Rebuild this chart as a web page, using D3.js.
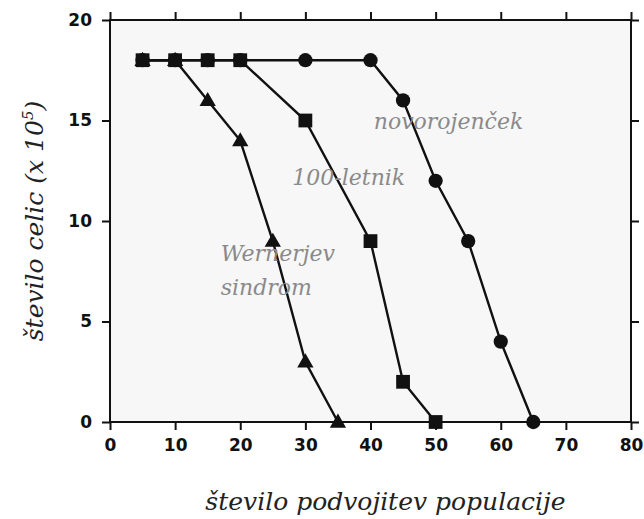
<!DOCTYPE html>
<html>
<head>
<meta charset="utf-8">
<script src="https://cdn.jsdelivr.net/npm/d3@7"></script>
<style>
  body { margin: 0; background: #fff; }
  .tick text { font-family: "DejaVu Sans", sans-serif; font-weight: bold; font-size: 17px; fill: #111; }
  .lbl { font-family: "DejaVu Serif", serif; font-style: italic; }
</style>
</head>
<body>
<div id="chart"></div>
<script>
// x = število podvojitev populacije, y = število celic (x 10^5)
const wernerX = [5, 10, 15, 20, 25, 30, 35];
const wernerY = [18, 18, 16, 14, 9, 3, 0];
const stoletnikX = [5, 10, 15, 20, 30, 40, 45, 50];
const stoletnikY = [18, 18, 18, 18, 15, 9, 2, 0];
const novoX = [5, 10, 15, 20, 30, 40, 45, 50, 55, 60, 65];
const novoY = [18, 18, 18, 18, 18, 18, 16, 12, 9, 4, 0];
const xTicks = [0, 10, 20, 30, 40, 50, 60, 70, 80];
const yTicks = [0, 5, 10, 15, 20];

const width = 644, height = 519;
const margin = { top: 20, right: 13, bottom: 97, left: 110 };

const svg = d3.select('#chart').append('svg')
    .attr('width', width)
    .attr('height', height);

const x = d3.scaleLinear().domain([0, 80]).range([margin.left, width - margin.right]);
const y = d3.scaleLinear().domain([0, 20]).range([height - margin.bottom, margin.top]);

// plot background
svg.append('rect')
    .attr('x', x(0)).attr('y', y(20))
    .attr('width', x(80) - x(0)).attr('height', y(0) - y(20))
    .attr('fill', '#f7f7f7');

// axes on all four sides
const axisStyle = g => {
    g.select('.domain').remove();
    g.selectAll('.tick line').attr('stroke', '#111').attr('stroke-width', 2);
};
svg.append('g')
    .attr('transform', `translate(0,${y(0)})`)
    .call(d3.axisBottom(x).tickValues(xTicks).tickSize(8).tickPadding(9))
    .call(axisStyle);
svg.append('g')
    .attr('transform', `translate(0,${y(20)})`)
    .call(d3.axisTop(x).tickValues(xTicks).tickSize(8).tickFormat(''))
    .call(axisStyle);
svg.append('g')
    .attr('transform', `translate(${x(0)},0)`)
    .call(d3.axisLeft(y).tickValues(yTicks).tickSize(8).tickPadding(10))
    .call(axisStyle);
svg.append('g')
    .attr('transform', `translate(${x(80)},0)`)
    .call(d3.axisRight(y).tickValues(yTicks).tickSize(8).tickFormat(''))
    .call(axisStyle);

// frame
svg.append('rect')
    .attr('x', x(0)).attr('y', y(20))
    .attr('width', x(80) - x(0)).attr('height', y(0) - y(20))
    .attr('fill', 'none').attr('stroke', '#111').attr('stroke-width', 2);

const line = d3.line().x(d => x(d[0])).y(d => y(d[1]));
const series = [
    { xs: novoX, ys: novoY, shape: 'circle' },
    { xs: wernerX, ys: wernerY, shape: 'triangle' },
    { xs: stoletnikX, ys: stoletnikY, shape: 'square' }
];

series.forEach(s => {
    const pts = s.xs.map((v, i) => [v, s.ys[i]]);
    svg.append('path')
        .datum(pts)
        .attr('d', line)
        .attr('fill', 'none')
        .attr('stroke', '#111')
        .attr('stroke-width', 2.4);
});

const symbols = {
    circle: d3.symbol().type(d3.symbolCircle).size(160),
    triangle: d3.symbol().type(d3.symbolTriangle).size(115),
    square: d3.symbol().type(d3.symbolSquare).size(190)
};

series.forEach(s => {
    const pts = s.xs.map((v, i) => [v, s.ys[i]]);
    svg.append('g')
        .selectAll('path')
        .data(pts)
        .enter()
        .append('path')
        .attr('d', symbols[s.shape])
        .attr('transform', d => `translate(${x(d[0])},${y(d[1]) + (s.shape === 'triangle' ? 1 : 0)})`)
        .attr('fill', '#111');
});

// series labels
const seriesLabels = [
    { text: 'novorojenček', x: 40.5, y: 14.6 },
    { text: '100-letnik', x: 28, y: 11.8 },
    { text: 'Wernerjev', x: 17, y: 8 },
    { text: 'sindrom', x: 17, y: 6.3 }
];
svg.append('g')
    .selectAll('text')
    .data(seriesLabels)
    .enter()
    .append('text')
    .attr('class', 'lbl')
    .attr('x', d => x(d.x))
    .attr('y', d => y(d.y))
    .attr('fill', '#8a8a8a')
    .attr('font-size', 22)
    .text(d => d.text);

// axis titles
svg.append('text')
    .attr('class', 'lbl')
    .attr('x', (x(0) + x(80)) / 2 + 15)
    .attr('y', 510)
    .attr('text-anchor', 'middle')
    .attr('font-size', 25)
    .attr('fill', '#222')
    .text('število podvojitev populacije');

const yTitle = svg.append('text')
    .attr('class', 'lbl')
    .attr('transform', `translate(43,${(y(0) + y(20)) / 2}) rotate(-90)`)
    .attr('text-anchor', 'middle')
    .attr('font-size', 25)
    .attr('fill', '#222');
yTitle.append('tspan').text('število celic (x 10');
yTitle.append('tspan').attr('font-size', 15).attr('dy', -10).text('5');
yTitle.append('tspan').attr('dy', 10).text(')');
</script>
</body>
</html>
